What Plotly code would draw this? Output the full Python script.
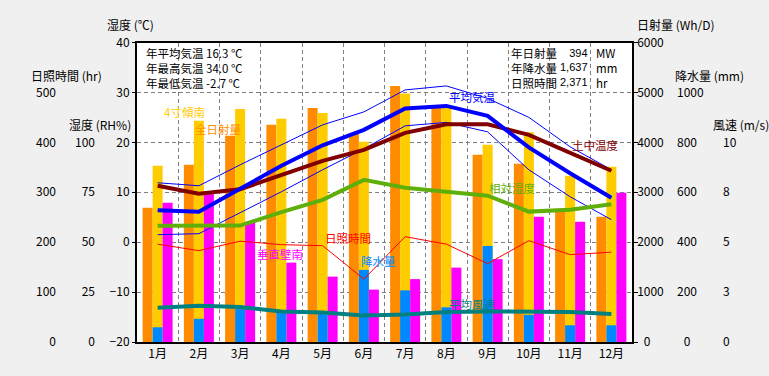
import plotly.graph_objects as go

# ---------------- data ----------------
months = ["1月", "2月", "3月", "4月", "5月", "6月", "7月", "8月", "9月", "10月", "11月", "12月"]

solar_total = [2690, 3550, 4130, 4350, 4690, 4180, 5130, 4700, 3750, 3570, 2670, 2510]   # 全日射量 Wh/D
solar_tilt = [3530, 4430, 4670, 4470, 4590, 4010, 4980, 4730, 3950, 4200, 3330, 3510]    # 4寸傾南 Wh/D
solar_wall = [2790, 2970, 2410, 1590, 1310, 1050, 1260, 1490, 1660, 2510, 2410, 2990]    # 垂直壁南 Wh/D
precip = [59, 93, 132, 127, 116, 289, 207, 139, 385, 109, 67, 67]                         # 降水量 mm

temp_mean = [6.4, 6.1, 10.7, 15.3, 19.4, 22.5, 26.8, 27.3, 25.3, 19.0, 13.8, 8.9]         # 平均気温
temp_max = [11.9, 11.3, 15.5, 19.5, 23.5, 26.1, 30.5, 31.3, 28.8, 25.0, 19.1, 14.5]
temp_min = [1.5, 1.7, 5.9, 10.1, 14.5, 18.7, 23.3, 24.0, 22.1, 14.5, 9.1, 4.5]
soil_temp = [11.3, 9.7, 10.6, 13.5, 16.3, 18.5, 21.9, 23.6, 23.6, 21.5, 18.0, 14.3]       # 土中温度
rel_hum = [58.2, 58.2, 58.3, 65.0, 71.2, 81.2, 77.3, 75.3, 73.3, 65.3, 66.2, 69.0]        # 相対湿度
sun_hours = [196, 183, 202, 195, 193, 126, 211, 196, 157, 203, 175, 180]                   # 日照時間
wind = [1.72, 1.82, 1.75, 1.53, 1.48, 1.33, 1.38, 1.50, 1.53, 1.52, 1.50, 1.40]           # 平均風速

temp_ticks = [-20, -10, 0, 10, 20, 30, 40]
hours_ticks = [0, 100, 200, 300, 400, 500]
rh_ticks = [0, 25, 50, 75, 100]
solar_ticks = [0, 1000, 2000, 3000, 4000, 5000, 6000]
precip_ticks = [0, 200, 400, 600, 800, 1000]
wind_tickvals = [0, 2.5, 5, 7.5, 10]
wind_ticktext = ["0", "3", "5", "8", "10"]

summary_left = ["年平均気温 16.3 ℃", "年最高気温 34.0 ℃", "年最低気温 -2.7 ℃"]
summary_right_labels = ["年日射量", "年降水量", "日照時間"]
summary_right_values = ["394", "1,637", "2,371"]
summary_right_units = ["MW", "mm", "hr"]

# ---------------- layout helpers ----------------
W, H = 769, 376
FONT = "Noto Sans CJK JP"
NUMFONT = "Liberation Sans"
L, R, T, B = 137, 632, 42.5, 342


def px(x):
    return x / W


def py(y):
    return 1 - y / H


def centred(labels):
    """pad shorter left-aligned labels so the column looks centred"""
    n = max(len(s) for s in labels)
    return ["\u2007" * ((n - len(s)) // 2) + s for s in labels]


xs = list(range(1, len(months) + 1))
bw = 0.2424

fig = go.Figure()

# bars (base subplot + first overlay so they sit below the lines)
fig.add_trace(go.Bar(x=xs, y=solar_total, width=bw, offset=-1.5 * bw, marker_color="#FF8C00",
                     marker_line_width=0, yaxis="y", name="全日射量"))
fig.add_trace(go.Bar(x=xs, y=solar_tilt, width=bw, offset=-0.5 * bw, marker_color="#FFCC00",
                     marker_line_width=0, yaxis="y", name="4寸傾南"))
fig.add_trace(go.Bar(x=xs, y=solar_wall, width=bw, offset=0.5 * bw, marker_color="#FF00FF",
                     marker_line_width=0, yaxis="y", name="垂直壁南"))
fig.add_trace(go.Bar(x=xs, y=precip, width=bw, offset=-0.5 * bw, marker_color="#0088FF",
                     marker_line_width=0, yaxis="y2", name="降水量"))

# lines
fig.add_trace(go.Scatter(x=xs, y=sun_hours, mode="lines", line=dict(color="#FF0000", width=1),
                         yaxis="y4", name="日照時間"))
fig.add_trace(go.Scatter(x=xs, y=rel_hum, mode="lines", line=dict(color="#5FAF0A", width=4),
                         yaxis="y5", name="相対湿度"))
fig.add_trace(go.Scatter(x=xs, y=wind, mode="lines", line=dict(color="#008080", width=4),
                         yaxis="y6", name="平均風速"))
fig.add_trace(go.Scatter(x=xs, y=temp_max, mode="lines", line=dict(color="#0000FF", width=1),
                         yaxis="y3", name="最高"))
fig.add_trace(go.Scatter(x=xs, y=temp_min, mode="lines", line=dict(color="#0000FF", width=1),
                         yaxis="y3", name="最低"))
fig.add_trace(go.Scatter(x=xs, y=soil_temp, mode="lines", line=dict(color="#800000", width=4),
                         yaxis="y3", name="土中温度"))
fig.add_trace(go.Scatter(x=xs, y=temp_mean, mode="lines", line=dict(color="#0000FF", width=4),
                         yaxis="y3", name="平均気温"))

tickfont = dict(family=FONT, size=12, color="#000000")
ydom = [py(B), py(T)]
GRID = "#808080"

solar_text = centred([str(v) for v in solar_ticks])
precip_text = centred([str(v) for v in precip_ticks])

fig.update_layout(
    width=W, height=H,
    margin=dict(l=0, r=0, t=0, b=0, pad=0),
    template="none",
    paper_bgcolor="#F0F0F0",
    plot_bgcolor="#FFFFFF",
    showlegend=False,
    barmode="overlay",
    font=dict(family=FONT, size=12, color="#000000"),
    xaxis=dict(
        domain=[px(L), px(R)], range=[0.5, len(months) + 0.5],
        tickvals=xs, ticktext=months, ticks="", tickfont=tickfont,
        showgrid=False, zeroline=False,
        showline=True, linecolor="#000000", linewidth=1.5, mirror=True,
        minor=dict(tickvals=[i + 0.5 for i in xs[:-1]], showgrid=True, gridcolor=GRID,
                   griddash="4px,3px", gridwidth=1, ticks=""),
        automargin=False, fixedrange=True,
    ),
    yaxis=dict(  # 日射量
        domain=ydom, range=[0, 6000], tickvals=solar_ticks, ticktext=solar_text,
        side="right", anchor="x",
        ticks="outside", ticklen=4, tickcolor="#000000", tickfont=tickfont,
        ticklabelstandoff=-3,
        showgrid=True, gridcolor=GRID, griddash="4px,3px", gridwidth=1, zeroline=False,
        showline=True, linecolor="#000000", linewidth=1.5, mirror=True,
        automargin=False,
    ),
    yaxis2=dict(  # 降水量
        domain=ydom, range=[0, 1200], tickvals=precip_ticks, ticktext=precip_text,
        side="right", overlaying="y",
        anchor="free", position=px(676), ticks="", tickfont=tickfont,
        showgrid=False, zeroline=False, showline=False, automargin=False,
    ),
    yaxis3=dict(  # 温度
        domain=ydom, range=[-20, 40], tickvals=temp_ticks, side="left", overlaying="y",
        anchor="x", ticks="outside", ticklen=4, tickcolor="#000000", tickfont=tickfont,
        showgrid=False, zeroline=False, showline=False, automargin=False,
    ),
    yaxis4=dict(  # 日照時間
        domain=ydom, range=[0, 600], tickvals=hours_ticks, side="left", overlaying="y",
        anchor="free", position=px(56), ticks="", tickfont=tickfont,
        showgrid=False, zeroline=False, showline=False, automargin=False,
    ),
    yaxis5=dict(  # 湿度 RH
        domain=ydom, range=[0, 150], tickvals=rh_ticks, side="left", overlaying="y",
        anchor="free", position=px(95), ticks="", tickfont=tickfont,
        showgrid=False, zeroline=False, showline=False, automargin=False,
    ),
    yaxis6=dict(  # 風速
        domain=ydom, range=[0, 15], tickvals=wind_tickvals, ticktext=wind_ticktext,
        side="right", overlaying="y", anchor="free", position=px(722), ticks="",
        tickfont=tickfont, showgrid=False, zeroline=False, showline=False, automargin=False,
    ),
)

annotations = []


def add_text(text, x, y, color="#000000", xanchor="left", size=12, align="left", family=FONT):
    annotations.append(dict(text=text, x=px(x), y=py(y), xref="paper", yref="paper",
                            xanchor=xanchor, yanchor="middle", showarrow=False, align=align,
                            font=dict(family=family, size=size, color=color)))


# axis titles
add_text("湿度 (℃)", 105, 25)
add_text("日照時間 (hr)", 29, 75)
add_text("湿度 (RH%)", 67, 125)
add_text("日射量 (Wh/D)", 635, 25)
add_text("降水量 (mm)", 673, 75)
add_text("風速 (m/s)", 711, 125)

# summary boxes (one multi-line text per column)
BS = 11.5
add_text("<br>".join(summary_left), 144, 67.7, size=BS)
add_text("<br>".join(summary_right_labels), 509, 67.7, size=BS)
add_text("<br>".join(summary_right_values), 590, 67.7, xanchor="right", size=11,
         align="right", family=NUMFONT)
add_text("<br>".join(summary_right_units), 594, 67.7, size=BS)

# series labels
LS = 11.5
add_text("4寸傾南", 162, 111.5, "#FFCC00", size=LS)
add_text("全日射量", 193, 128.5, "#FF8C00", size=LS)
add_text("平均気温", 447, 97, "#0000FF", size=LS)
add_text("土中温度", 570, 145, "#800000", size=LS)
add_text("相対湿度", 487, 188, "#5FAF0A", size=LS)
add_text("日照時間", 323, 238, "#FF0000", size=LS)
add_text("垂直壁南", 255, 254, "#FF00FF", size=LS)
add_text("降水量", 359, 261, "#0088FF", size=LS)
add_text("平均風速", 447, 304, "#008080", size=LS)

fig.update_layout(annotations=annotations)

fig.write_html("out.html", config={"displayModeBar": False},
               post_script="document.body.style.margin='0';")
